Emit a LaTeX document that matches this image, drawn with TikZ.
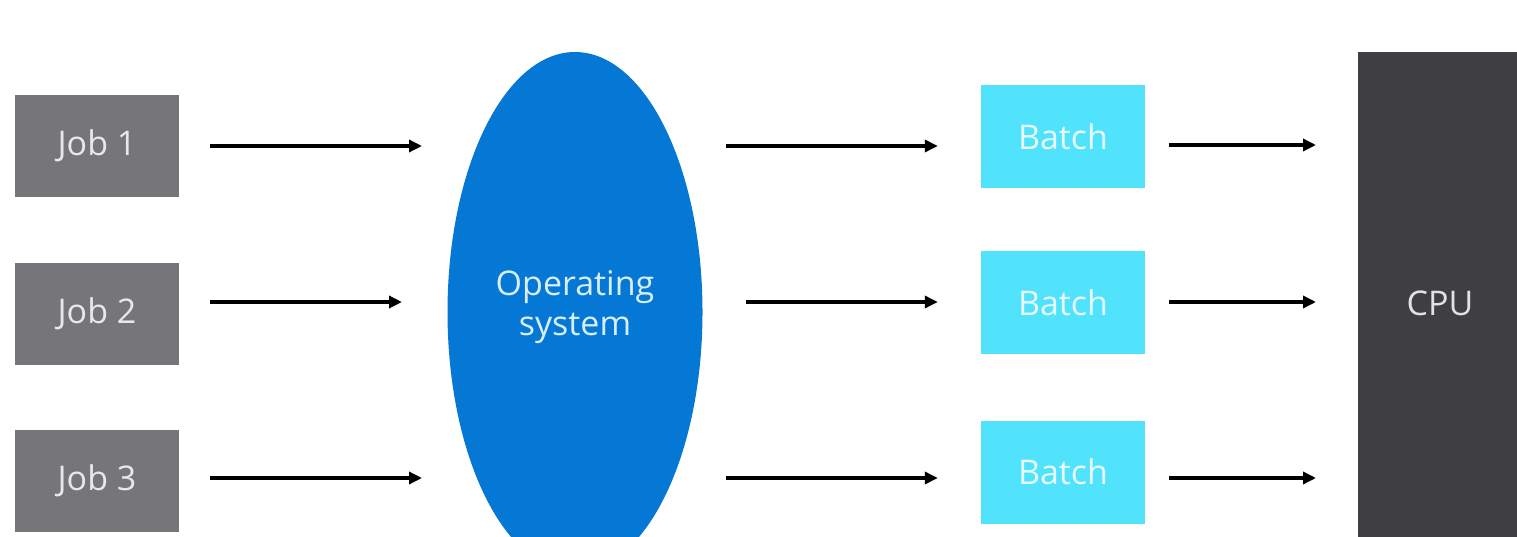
\documentclass[tikz,border=0pt]{standalone}
\usepackage{fontspec}
\setmainfont{Open Sans}
\usetikzlibrary{shapes.geometric,arrows.meta}
\definecolor{jobgray}{HTML}{767579}
\definecolor{batchcyan}{HTML}{50E3FB}
\definecolor{osblue}{HTML}{0577D4}
\definecolor{cpudark}{HTML}{3F3E43}
\definecolor{jobtext}{HTML}{E8E8EA}
\definecolor{batchtext}{HTML}{E8FAFF}
\definecolor{ostext}{HTML}{D8EEFB}
\definecolor{cputext}{HTML}{E2E2E4}
\tikzset{
  lbl/.style={font=\fontsize{34}{40}\selectfont},
  jobbox/.style={rectangle, fill=jobgray, text=jobtext, minimum width=164, minimum height=102, inner sep=0, lbl},
  batchbox/.style={rectangle, fill=batchcyan, text=batchtext, minimum width=164, minimum height=103, inner sep=0, lbl},
  arr/.style={line width=3.4pt, -{Triangle[length=13pt,width=12pt]}},
}
\begin{document}
\begin{tikzpicture}[x=1pt,y=-1pt]
  \useasboundingbox (0,0) rectangle (1517,537);
  \begin{scope}
    \clip (0,0) rectangle (1517,537);
    % operating system
    \node[ellipse, fill=osblue, minimum width=255, minimum height=520, inner sep=0] (os) at (575,312) {};
    \node[lbl, text=ostext, align=center] (ostxt) at (575,307) {Operating\\system};
    % cpu
    \node[rectangle, fill=cpudark, text=cputext, minimum width=164, minimum height=502, inner sep=0, lbl] (cpu) at (1440,303) {CPU};
  \end{scope}

  % jobs
  \node[jobbox] (j1) at (97,146) {\raisebox{-3pt}{Job 1}};
  \node[jobbox] (j2) at (97,314) {\raisebox{-3pt}{Job 2}};
  \node[jobbox] (j3) at (97,481) {\raisebox{-3pt}{Job 3}};

  % batches
  \node[batchbox] (b1) at (1063,136.5) {Batch};
  \node[batchbox] (b2) at (1063,302.5) {Batch};
  \node[batchbox] (b3) at (1063,472) {Batch};

  % arrow end points
  \coordinate (i1) at (422,146);
  \coordinate (i2) at (402,302);
  \coordinate (i3) at (422,478);
  \coordinate (o1) at (726,146);
  \coordinate (o2) at (746,302);
  \coordinate (o3) at (726,478);
  \coordinate (c1) at (1316,145);
  \coordinate (c2) at (1316,302);
  \coordinate (c3) at (1316,478);

  % jobs into the operating system
  \draw[arr, shorten <=31] (j1.east |- i1) -- (i1);
  \draw[arr, shorten <=31] (j2.east |- i2) -- (i2);
  \draw[arr, shorten <=31] (j3.east |- i3) -- (i3);

  % operating system into batches
  \draw[arr, shorten >=43] (o1) -- (o1 -| b1.west);
  \draw[arr, shorten >=43] (o2) -- (o2 -| b2.west);
  \draw[arr, shorten >=43] (o3) -- (o3 -| b3.west);

  % batches into the cpu
  \draw[arr, shorten <=24] (b1.east |- c1) -- (c1);
  \draw[arr, shorten <=24] (b2.east |- c2) -- (c2);
  \draw[arr, shorten <=24] (b3.east |- c3) -- (c3);
\end{tikzpicture}
\end{document}
